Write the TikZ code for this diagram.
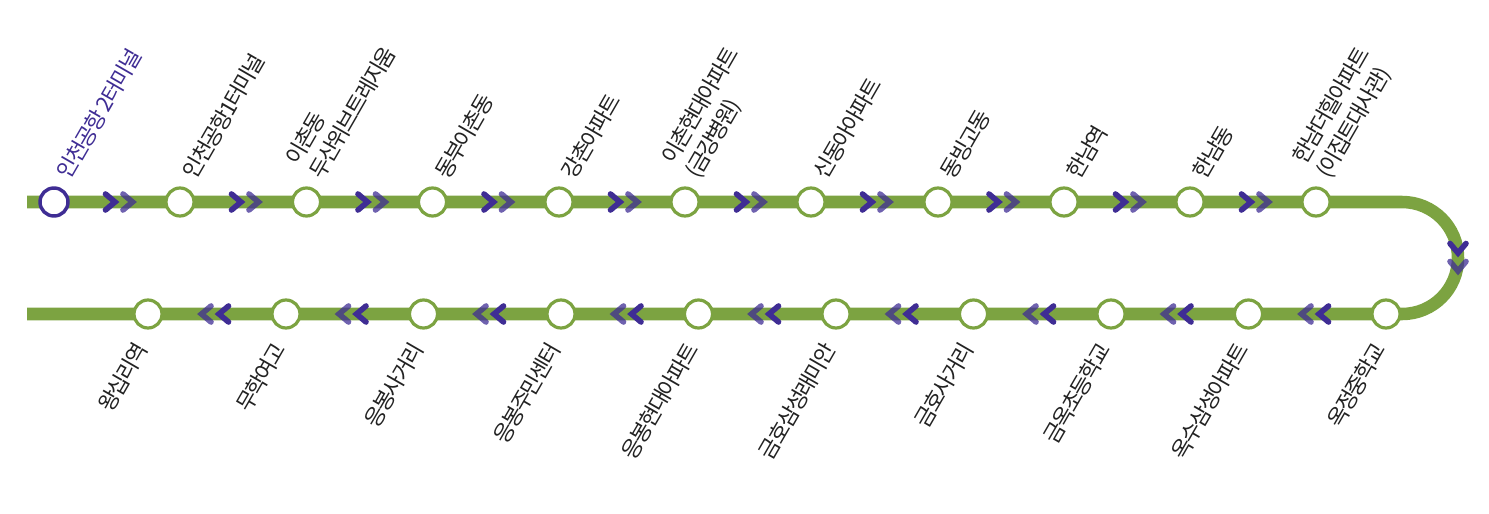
\documentclass[tikz,border=0pt]{standalone}
\usepackage{fontspec}
\setmainfont[LetterSpace=-9]{Noto Sans CJK KR}
\usetikzlibrary{backgrounds}
\definecolor{railgreen}{HTML}{7CA341}
\definecolor{railpurple}{HTML}{3F2D94}
\definecolor{labelink}{HTML}{222222}
\tikzset{
  rail/.style={line width=9.4pt,draw=railgreen,line cap=butt},
  stop/.style={circle,draw=railgreen,line width=2.4pt,fill=white,minimum size=21pt,inner sep=0pt},
  firststop/.style={stop,draw=railpurple,line width=2.6pt},
  uplabel/.style={rotate=60,anchor=south west,inner sep=0pt,align=left,font=\fontsize{16.5}{21}\selectfont,text=labelink},
  downlabel/.style={rotate=60,anchor=north east,inner sep=0pt,font=\fontsize{16.5}{21}\selectfont,text=labelink},
  chev/.style={line width=4.2pt,line cap=round,line join=miter,draw=railpurple},
  chevfade/.style={chev,draw opacity=.75}
}
\newcommand{\chevR}[3]{\draw[#3] (#1-9.5,#2-8) -- (#1,#2) -- (#1-9.5,#2+8);}
\newcommand{\chevL}[3]{\draw[#3] (#1+9.5,#2-8) -- (#1,#2) -- (#1+9.5,#2+8);}
\newcommand{\chevD}[3]{\draw[#3] (#1-8,#2-9.5) -- (#1,#2) -- (#1+8,#2-9.5);}
\begin{document}
\begin{tikzpicture}[x=0.75pt,y=-0.75pt]
\useasboundingbox (0,0) rectangle (1489,514);
\coordinate (startT) at (27,202);
\coordinate (bendT) at (1402,202);
\coordinate (bendB) at (1402,314);
\coordinate (endB) at (27,314);
% top stations
\node[firststop] (t1) at (54,202) {};
\foreach \n/\x in {2/180,3/306.5,4/432.5,5/559,6/685,7/811,8/938,9/1064,10/1190,11/1316}
  \node[stop] (t\n) at (\x,202) {};
% bottom stations
\foreach \n/\x in {1/1386,2/1248.5,3/1111,4/973.5,5/836,6/698.5,7/561,8/423.5,9/286,10/148}
  \node[stop] (b\n) at (\x,314) {};
\begin{scope}[on background layer]
\draw[rail] (startT) -- (t1.center) -- (t2.center) -- (t3.center) -- (t4.center) -- (t5.center) -- (t6.center) -- (t7.center) -- (t8.center) -- (t9.center) -- (t10.center) -- (t11.center) -- (bendT) .. controls (1433,202) and (1458,227) .. (1458,258) .. controls (1458,289) and (1433,314) .. (bendB) -- (b1.center) -- (b2.center) -- (b3.center) -- (b4.center) -- (b5.center) -- (b6.center) -- (b7.center) -- (b8.center) -- (b9.center) -- (b10.center) -- (endB);
\end{scope}
% chevrons
\foreach \x in {115,241,367.5,493.5,620,746,872,998.5,1125,1251}{
  \chevR{\x}{202}{chev}
  \pgfmathsetmacro{\xx}{\x+17.5}
  \chevR{\xx}{202}{chevfade}
}
\foreach \x in {219,356.5,494,631.5,769,906.5,1044,1181.5,1319}{
  \chevL{\x}{314}{chev}
  \pgfmathsetmacro{\xx}{\x-17.5}
  \chevL{\xx}{314}{chevfade}
}
\chevD{1458}{253}{chev}
\chevD{1458}{271}{chevfade}
% labels
\node[uplabel,text=railpurple] (lt1) at (71.5,182) {인천공항 2터미널};
\node[uplabel] (lt2) at (197.5,182) {인천공항1터미널};
\node[uplabel] (lt3) at (324,182) {이촌동\\두산위브트레지움};
\node[uplabel] (lt4) at (450,182) {동부이촌동};
\node[uplabel] (lt5) at (576.5,182) {강촌아파트};
\node[uplabel] (lt6) at (702.5,182) {이촌현대아파트\\(금강병원)};
\node[uplabel] (lt7) at (828.5,182) {신동아아파트};
\node[uplabel] (lt8) at (955.5,182) {동빙고동};
\node[uplabel] (lt9) at (1081.5,182) {한남역};
\node[uplabel] (lt10) at (1207.5,182) {한남동};
\node[uplabel] (lt11) at (1333.5,182) {한남더힐아파트\\(이집트대사관)};
\node[downlabel] (lb1) at (1371,339.5) {옥정중학교};
\node[downlabel] (lb2) at (1233.5,339.5) {옥수삼성아파트};
\node[downlabel] (lb3) at (1096,339.5) {금옥초등학교};
\node[downlabel] (lb4) at (958.5,339.5) {금호사거리};
\node[downlabel] (lb5) at (821,339.5) {금호삼성래미안};
\node[downlabel] (lb6) at (683.5,339.5) {응봉현대아파트};
\node[downlabel] (lb7) at (546,339.5) {응봉주민센터};
\node[downlabel] (lb8) at (408.5,339.5) {응봉사거리};
\node[downlabel] (lb9) at (271,339.5) {무학여고};
\node[downlabel] (lb10) at (133,339.5) {왕십리역};
\end{tikzpicture}
\end{document}
